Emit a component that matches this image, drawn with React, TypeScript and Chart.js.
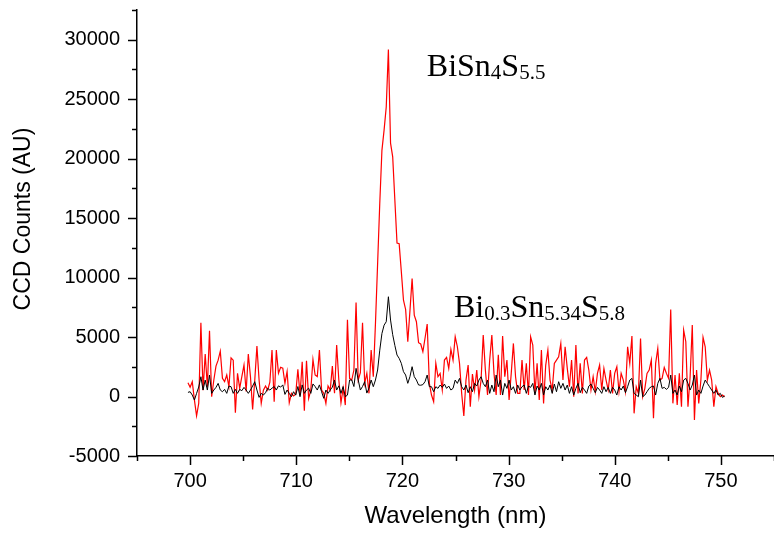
import React, { useEffect, useRef } from 'react';
import { Chart, registerables } from 'chart.js';

Chart.register(...registerables);

// Sampling grid of the spectrometer (nm)
const WAVELENGTH_START = 699.8;
const WAVELENGTH_STEP = 0.203;

// BiSn4S5.5 (red) CCD counts
const RED_COUNTS = [
  1160, 780, 1250, -300, -1630, -570, 6200, 540, 3570, 830,
  5530, -20, 1390, 2560, 3060, 3810, 1530, 1250, 1810, 830,
  3250, 3060, -1360, 1950, 700, 1670, 2650, 420, 3570, 1670,
  -1080, 1390, 4240, 1390, -570, 540, 890, 540, 1200, 3900,
  -440, 3900, 1950, 2460, 2380, 1120, 2100, -520, 270, 50,
  200, 2300, 120, 2920, -1200, 3000, -160, 540, 3110, 1810,
  1670, 3900, 540, 270, -570, 890, 540, 2560, 270, 4330,
  1390, -520, 700, -720, 6460, 1530, 1390, 2230, 7900, 1390,
  2000, 6200, 1110, 1960, 270, 3900, 1660, 6150, 11190, 16250,
  20700, 22400, 24340, 29170, 21300, 20150, 16500, 12900, 12850, 10500,
  8100, 7320, 4600, 7200, 9930, 6850, 6290, 4530, 4420, 3770,
  4900, 6090, 1110,
  126, -434, 2786, 1666, 1946, 546, 3066, 3290, 2366, 3962,
  3066, 5026, 4186, 2786, 266, -1638, 1386, 2646, -854, 1890,
  546, 2226, -14, 1386, 5166, 2226, 126, 3066, 5166, 1946,
  126, 3500, 126, 5082, 1666, 3066, -294, 1946, 4466, 1666,
  266, 266, 3066, 546, 2786, 126, 5026,
  4326, 266, 2786, -294, 3906, -574, 2646, 3906, 1386, 546,
  2786, 3066, 3346, 4466, 1386, 4186, 2366, 826, 3066, -14,
  4326, 266, 2786, 266, 3066, 3290, 2226, 546, 1666, 406,
  1946, 2646, 546, 2366, 1386, 546, 2226, 266, 1946, 2506,
  406, 1946, 1386, 406, 4186,
  2786, 5082, -1414, 826, 266, 4886, -14, 686, 1946, 2226,
  3066, -1834, 2786, 4046, 1386, 1526, 2450, 1946, 1526, 7322,
  -574, 1806, -714, 1946, -854, 5586, 4606, -854, 1666, 6006,
  -1974, 2226, -574, 1386, 4970, 4186, 1386, 2226, 1386, -854,
  826, 266, -14, 126, -14,
];

// Bi0.3Sn5.34S5.8 (black) CCD counts
const BLACK_COUNTS = [
  350, 406, 126, -294, 266, 800, 1666, 546, 1386, 546,
  1806, 266, 546, 770, 1106, 546, 406, 602, 266, 882,
  826, 266, 602, 266, 602, 490, 770, 546, 266, 546,
  882, 1246, 546, -70, 266, 126, 322, 686, 546,
  700, 840, 546, 900, 790, 980, 180, 546, 266, -14,
  406, 120, 840, -14, 980, 266, 546, 700, 266, 1060,
  840, 546, 980, 406, -150, 546, 266, 546, 790, 1390,
  546, 900, 266, 840, -14, 120, 1390, 1390, 840, 2370,
  1390, 546, 840,
  1250, 290, 710, 1390, 830, 1390, 2230, 3900, 5300, 6000,
  6290, 8390, 6430, 5200, 4300, 3490, 3210, 2790, 2090, 1810,
  1110, 1670, 2510, 1670, 1390, 970, 950, 1000, 1250, 1810,
  830,
  826, 406, 826, 686, 966, 770, 1050, 686, 882, 546,
  686, 1386, 1106, 1526, 826, 546, 966, 322, 826, 406,
  1106, 882, 1386, 1666, 1106, 826, 1386, 266, 966, 406,
  1806, 826, 1386, 126, 1106, 686, 1386, 546, 826, 266,
  966, 546, 826, 966, 266, 882, 770,
  1106, 126, 882, 546, 1106, 126, 826, 546, 966, 266,
  1050, 406, 1246, 686, 1106, 546, 966, 266, 826, 126,
  686, 1106, 322, 770, 546, 266, 882, 1050, 686, 322,
  770, 546, 266, 826, 406, 770, 266, 770, 546, 126,
  826, 546, 882, 322, 826,
  1386, 1526, 266, 126, -14, 1386, -14, 126, 406, 686,
  826, 882, 126, 1106, 1526, 686, 770, 602, 770, 1806,
  266, 546, 126, 882, 406, 1386, 1526, 1106, 546, 966,
  1806, 126, 546, 266, 882, 1386, 1106, 826, 546, 266,
  546, 126, 266, -70, 40,
];

const X_MAJOR_TICKS = [700, 710, 720, 730, 740, 750];
const X_MINOR_TICKS = [695, 705, 715, 725, 735, 745, 755];
const Y_MAJOR_TICKS = [-5000, 0, 5000, 10000, 15000, 20000, 25000, 30000];
const Y_MINOR_TICKS = [-2500, 2500, 7500, 12500, 17500, 22500, 27500, 32500];

const X_TITLE = 'Wavelength (nm)';
const Y_TITLE = 'CCD Counts (AU)';

// Labels: [text, isSubscript]
const LABEL_RED: [string, boolean][] = [['BiSn', false], ['4', true], ['S', false], ['5.5', true]];
const LABEL_BLACK: [string, boolean][] = [
  ['Bi', false], ['0.3', true], ['Sn', false], ['5.34', true], ['S', false], ['5.8', true],
];

const SANS = '"Liberation Sans", Arial, sans-serif';
const SERIF = '"Liberation Serif", "Times New Roman", serif';

const originPlugin = {
  id: 'originDecor',
  afterDraw(chart: any) {
    const { ctx, chartArea, scales } = chart;
    const xs = scales.x;
    const ys = scales.y;
    ctx.save();
    ctx.strokeStyle = '#000';
    ctx.lineWidth = 1.5;
    const drawX = (v: number, len: number) => {
      const px = Math.round(xs.getPixelForValue(v)) + 0.5;
      if (px > chartArea.right + 1) return;
      ctx.beginPath();
      ctx.moveTo(px, chartArea.bottom);
      ctx.lineTo(px, chartArea.bottom + len);
      ctx.stroke();
    };
    const drawY = (v: number, len: number) => {
      const py = Math.round(ys.getPixelForValue(v)) + 0.5;
      ctx.beginPath();
      ctx.moveTo(chartArea.left, py);
      ctx.lineTo(chartArea.left - len, py);
      ctx.stroke();
    };
    X_MAJOR_TICKS.forEach((v) => drawX(v, 9));
    X_MINOR_TICKS.forEach((v) => drawX(v, 5));
    Y_MAJOR_TICKS.forEach((v) => drawY(v, 9));
    Y_MINOR_TICKS.forEach((v) => drawY(v, 5));

    // Y axis title
    ctx.fillStyle = '#000';
    ctx.font = `23px ${SANS}`;
    ctx.textAlign = 'center';
    ctx.textBaseline = 'middle';
    ctx.save();
    ctx.translate(24, 219);
    ctx.rotate(-Math.PI / 2);
    ctx.fillText(Y_TITLE, 0, 0);
    ctx.restore();

    // Sample labels with subscripts
    const drawLabel = (parts: [string, boolean][], xv: number, yv: number) => {
      let px = xs.getPixelForValue(xv);
      const py = ys.getPixelForValue(yv);
      ctx.textAlign = 'left';
      ctx.textBaseline = 'alphabetic';
      parts.forEach(([t, sub]) => {
        ctx.font = sub ? `21px ${SERIF}` : `32px ${SERIF}`;
        ctx.fillText(t, px, sub ? py + 3 : py);
        px += ctx.measureText(t).width;
      });
    };
    drawLabel(LABEL_RED, 722.3, 26950);
    drawLabel(LABEL_BLACK, 724.85, 6680);
    ctx.restore();
  },
};

export default function App() {
  const canvasRef = useRef<HTMLCanvasElement | null>(null);

  useEffect(() => {
    if (!canvasRef.current) return;
    const wavelengths = RED_COUNTS.map((_, i) => +(WAVELENGTH_START + i * WAVELENGTH_STEP).toFixed(3));
    const chart = new Chart(canvasRef.current, {
      type: 'line',
      data: {
        datasets: [
          {
            label: 'Bi0.3Sn5.34S5.8',
            data: BLACK_COUNTS.map((v, i) => ({ x: wavelengths[i], y: v })),
            borderColor: '#000000',
            borderWidth: 1,
            pointRadius: 0,
            tension: 0,
            fill: false,
          },
          {
            label: 'BiSn4S5.5',
            data: RED_COUNTS.map((v, i) => ({ x: wavelengths[i], y: v })),
            borderColor: '#ff0000',
            borderWidth: 1.2,
            pointRadius: 0,
            tension: 0,
            fill: false,
          },
        ],
      },
      options: {
        animation: false,
        responsive: false,
        devicePixelRatio: 1,
        layout: { padding: { top: 10, right: 0, left: 0, bottom: 0 } },
        plugins: { legend: { display: false }, tooltip: { enabled: false } },
        scales: {
          x: {
            type: 'linear',
            min: 695,
            max: 755,
            afterBuildTicks: (s: any) => {
              s.ticks = X_MAJOR_TICKS.map((v) => ({ value: v }));
            },
            afterFit: (s: any) => {
              s.height = 77;
              s.paddingLeft = 0;
              s.paddingRight = 0;
            },
            grid: { display: false, drawTicks: true, tickLength: 9 },
            border: { display: true, color: '#000', width: 1.5 },
            ticks: {
              color: '#000',
              font: { family: SANS, size: 20 },
              padding: 4,
              maxRotation: 0,
              autoSkip: false,
              callback: (v: any) => String(v),
            },
            title: {
              display: true,
              text: X_TITLE,
              color: '#000',
              font: { family: SANS, size: 24 },
              padding: { top: 0, bottom: 2 },
            },
          },
          y: {
            type: 'linear',
            min: -5000,
            max: 32500,
            afterBuildTicks: (s: any) => {
              s.ticks = Y_MAJOR_TICKS.map((v) => ({ value: v }));
            },
            afterFit: (s: any) => {
              s.width = 137;
              s.paddingTop = 0;
              s.paddingBottom = 0;
            },
            grid: { display: false, drawTicks: true, tickLength: 9 },
            border: { display: true, color: '#000', width: 1.5 },
            ticks: {
              color: '#000',
              font: { family: SANS, size: 20 },
              padding: 8,
              autoSkip: false,
              callback: (v: any) => String(v),
            },
          },
        },
      },
      plugins: [originPlugin],
    });
    return () => chart.destroy();
  }, []);

  return (
    <div style={{ position: 'fixed', left: 0, top: 0, width: 774, height: 533, background: '#fff' }}>
      <canvas ref={canvasRef} width={774} height={533} style={{ display: 'block' }} />
    </div>
  );
}
